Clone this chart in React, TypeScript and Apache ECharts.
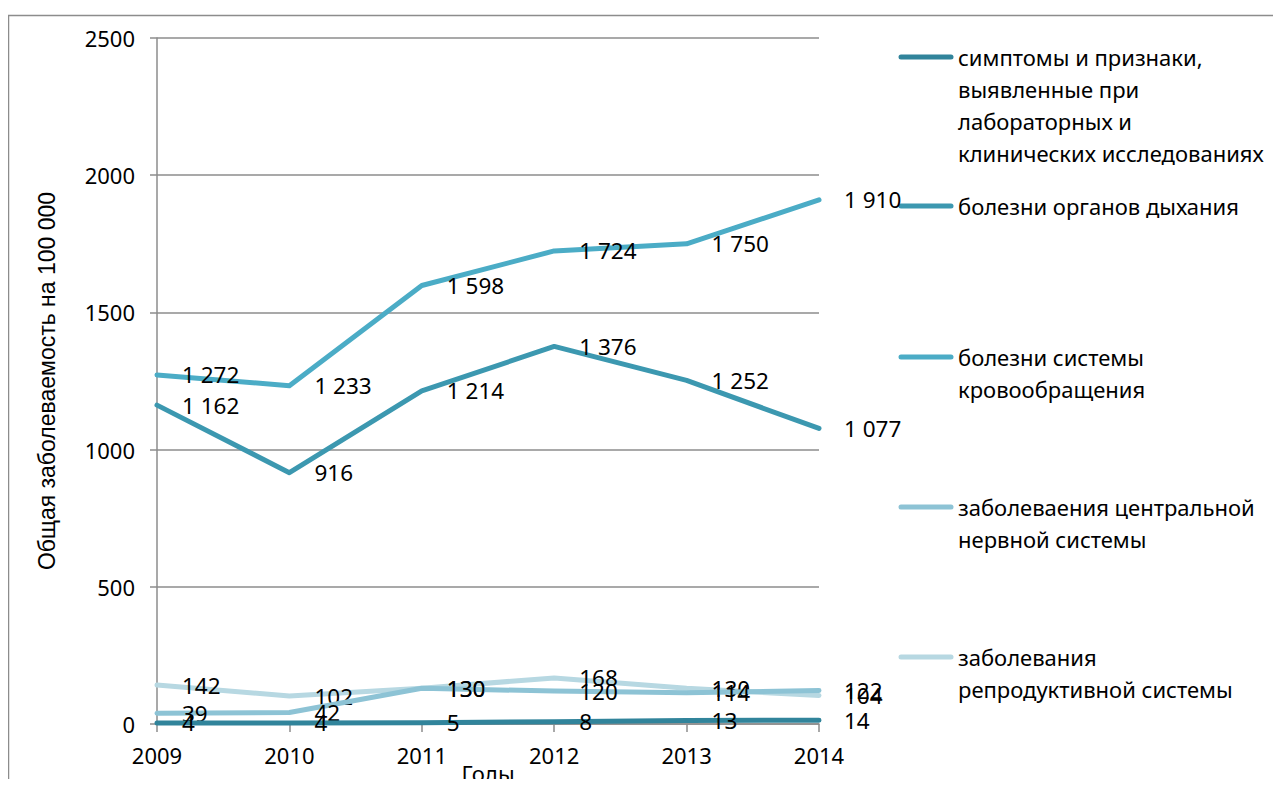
import React, { useEffect, useRef } from "react";
import * as echarts from "echarts";

const years = ["2009", "2010", "2011", "2012", "2013", "2014"];
const symptoms = [4, 4, 5, 8, 13, 14];
const respiratory = [1162, 916, 1214, 1376, 1252, 1077];
const circulatory = [1272, 1233, 1598, 1724, 1750, 1910];
const nervous = [39, 42, 130, 120, 114, 122];
const reproductive = [142, 102, 130, 168, 130, 104];

const seriesNames = [
  "симптомы и признаки, выявленные при лабораторных и клинических исследованиях",
  "болезни органов дыхания",
  "болезни системы кровообращения",
  "заболеваения центральной нервной системы",
  "заболевания репродуктивной системы",
];
const legendLabels = [
  "симптомы и признаки,\nвыявленные при\nлабораторных и\nклинических исследованиях",
  "болезни органов дыхания",
  "болезни системы\nкровообращения",
  "заболеваения центральной\nнервной системы",
  "заболевания\nрепродуктивной системы",
];
const colors = ["#31849B", "#3C98B0", "#4BACC6", "#8DC3D5", "#B7D8E2"];
const yTicks = { min: 0, max: 2500, interval: 500 };

const FONT = "'Noto Sans', sans-serif";

export default function App() {
  const ref = useRef<HTMLDivElement>(null);
  useEffect(() => {
    if (!ref.current) return;
    const chart = echarts.init(ref.current, null, { renderer: "svg" });
    const datasets = [symptoms, respiratory, circulatory, nervous, reproductive];
    const legendY = [49, 198, 349, 499, 649];
    const legendGraphics: any[] = [];
    legendLabels.forEach((lbl, i) => {
      legendGraphics.push({
        type: "line",
        shape: { x1: 893, y1: legendY[i], x2: 943, y2: legendY[i] },
        style: { stroke: colors[i], lineWidth: 5, lineCap: "round" },
      });
      legendGraphics.push({
        type: "text",
        x: 950,
        y: legendY[i] - 16,
        style: {
          text: lbl,
          fontSize: 22,
          fontFamily: FONT,
          fill: "#000",
          lineHeight: 32,
          verticalAlign: "top",
          align: "left",
        },
      });
    });
    chart.setOption({
      animation: false,
      color: colors,
      grid: { left: 149, top: 30, right: 454, bottom: 63, containLabel: false, outerBoundsMode: "none" },
      graphic: [
        {
          type: "rect",
          shape: { x: 0.5, y: 7.5, width: 1400, height: 900 },
          style: { fill: "none", stroke: "#8c8c8c", lineWidth: 1.5 },
          silent: true,
        },
        ...legendGraphics,
      ],
      xAxis: {
        type: "category",
        data: years,
        boundaryGap: false,
        axisLine: { lineStyle: { color: "#8c8c8c", width: 1.5 } },
        axisTick: { show: true, length: 8, lineStyle: { color: "#8c8c8c", width: 1.5 } },
        axisLabel: { fontSize: 22, fontFamily: FONT, color: "#000", margin: 20 },
        name: "Годы",
        nameLocation: "middle",
        nameGap: 38,
        nameMoveOverlap: false,
        nameTextStyle: { fontSize: 22, fontFamily: FONT, color: "#000" },
      },
      yAxis: {
        type: "value",
        min: yTicks.min,
        max: yTicks.max,
        interval: yTicks.interval,
        axisLine: { show: true, lineStyle: { color: "#8c8c8c", width: 1.5 } },
        axisTick: { show: true, length: 7, lineStyle: { color: "#8c8c8c", width: 1.5 } },
        splitLine: { show: true, lineStyle: { color: "#8c8c8c", width: 1.5 } },
        axisLabel: {
          fontSize: 22,
          fontFamily: FONT,
          color: "#000",
          margin: 22,
          formatter: (v: number) => String(v),
        },
        name: "Общая заболеваемость на 100 000",
        nameLocation: "middle",
        nameGap: 99,
        nameRotate: 90,
        nameMoveOverlap: false,
        nameTextStyle: { fontSize: 23, fontFamily: "'Liberation Sans', Arial, sans-serif", color: "#000" },
      },
      series: datasets.map((d, i) => ({
        name: seriesNames[i],
        type: "line",
        data: d,
        symbol: "circle",
        symbolSize: 2,
        showSymbol: true,
        itemStyle: { color: colors[i] },
        lineStyle: { width: 5, color: colors[i], cap: "round", join: "round" },
        z: 10 - i,
        label: {
          show: true,
          position: "right",
          distance: 24,
          offset: [0, 3],
          fontSize: 22.5,
          fontFamily: FONT,
          color: "#000",
          formatter: (p: any) => {
            const v = p.value as number;
            return v >= 1000 ? Math.floor(v / 1000) + " " + String(v % 1000).padStart(3, "0") : String(v);
          },
        },
        labelLayout: { hideOverlap: false },
      })),
    });
    return () => chart.dispose();
  }, []);
  return <div ref={ref} style={{ width: 1265, height: 779, marginBottom: -8 }} />;
}
